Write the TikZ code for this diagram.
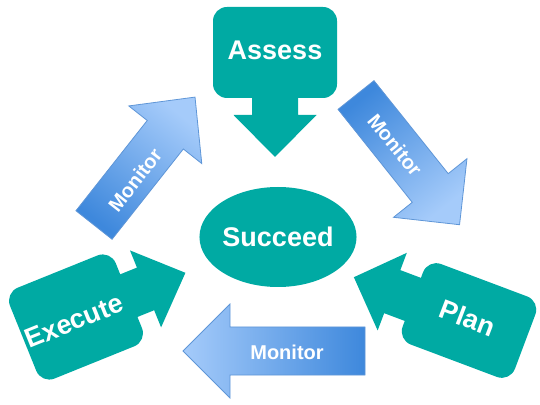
\documentclass[tikz,border=0pt]{standalone}
\usepackage{fontspec}
\setmainfont{Liberation Sans}
\usetikzlibrary{shapes.geometric}
\definecolor{tealc}{RGB}{0,170,163}
\definecolor{bdark}{RGB}{62,136,220}
\definecolor{blight}{RGB}{165,203,250}
\definecolor{bedge}{RGB}{95,150,215}
\tikzset{
  lbl/.style={text=white,font=\bfseries\fontsize{13.5}{16}\selectfont,inner sep=0pt},
  mlbl/.style={text=white,font=\bfseries\fontsize{10}{12}\selectfont,inner sep=0pt},
  callfill/.style={fill=tealc},
  monfill/.style={top color=blight,bottom color=bdark,draw=bedge,line width=0.4pt}
}
% center x, center y, rotation, rect length, rect width, shaft length, shaft width, head length, head width
\newcommand\tealcallout[9]{%
  \begin{scope}[shift={(#1,#2)},rotate=#3]
    \path[callfill,rounded corners=7pt] (-#4/2,-#5/2) rectangle (#4/2,#5/2);
    \path[callfill] (#4/2-6,-#7/2) -- (#4/2+#6,-#7/2) -- (#4/2+#6,-#9/2) -- (#4/2+#6+#8,0)
      -- (#4/2+#6,#9/2) -- (#4/2+#6,#7/2) -- (#4/2-6,#7/2) -- cycle;
  \end{scope}}
% tail x, tail y, rotation, length, shaft width, head width, head length, shading angle
\newcommand\monarrow[8]{%
  \begin{scope}[shift={(#1,#2)},rotate=#3]
    \shade[monfill,shading angle=#8] (0,-#5/2) -- (#4-#7,-#5/2) -- (#4-#7,-#6/2) -- (#4,0)
      -- (#4-#7,#6/2) -- (#4-#7,#5/2) -- (0,#5/2) -- cycle;
  \end{scope}}
\begin{document}
\begin{tikzpicture}[x=0.5pt,y=-0.5pt]
\useasboundingbox (0,0) rectangle (540,405);
% teal callouts
\tealcallout{275}{52.5}{-90}{91}{124}{17}{46}{42}{83}
\tealcallout{76}{317}{22}{114}{98}{18}{46}{43}{83}
\tealcallout{469}{320.5}{159.4}{120}{86}{22}{46}{41}{83}
% monitor arrows
\monarrow{94}{225}{51.7}{163}{46}{93}{48}{-38.3}
\monarrow{356}{95}{-51.4}{166}{46}{94}{47}{-141.4}
\monarrow{365}{351}{180}{182}{48}{94}{47}{90}
% labels
\node[lbl] (assess) at (275,50) {Assess};
\node[lbl,rotate=22] (execute) at (74,321) {Execute};
\node[lbl,rotate=-21] (plan) at (468,318) {Plan};
\node[lbl,ellipse,fill=tealc,minimum width=73pt,minimum height=50pt] (succeed) at (278,237) {Succeed};
\node[mlbl,rotate=52] (mon1) at (135,180) {Monitor};
\node[mlbl,rotate=-51] (mon2) at (395,145) {Monitor};
\node[mlbl] (mon3) at (287,352) {Monitor};
\end{tikzpicture}
\end{document}
